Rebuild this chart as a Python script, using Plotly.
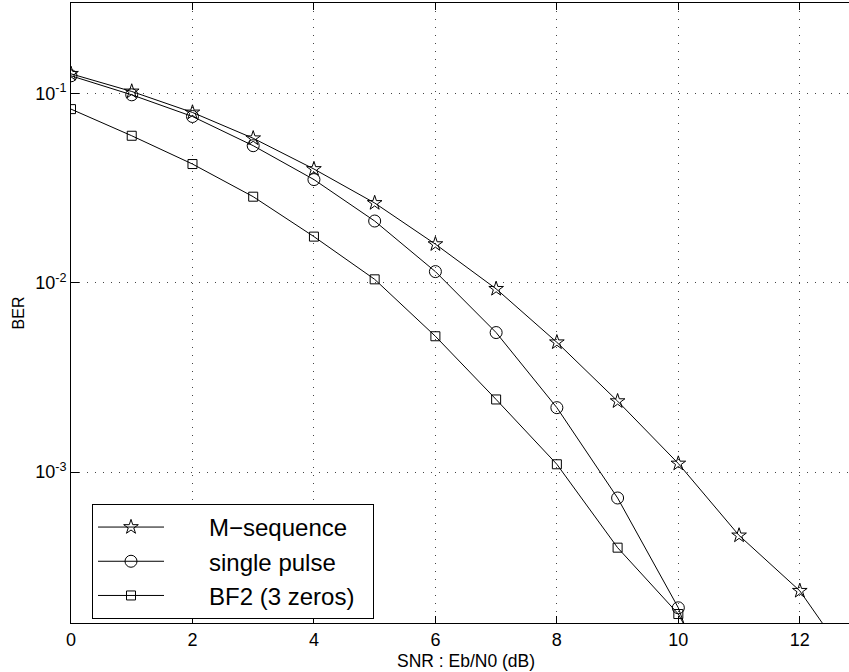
import plotly.graph_objects as go

# Eb/N0 values in dB
snr_db = [0, 1, 2, 3, 4, 5, 6, 7, 8, 9, 10, 11, 12, 13]

# Bit error rate for each signalling scheme
ber_mseq = [0.127, 0.1025, 0.0794, 0.058, 0.0399, 0.0264, 0.0160, 0.00929,
            0.00485, 0.00237, 0.00111, 4.63e-4, 2.36e-4, 8.2e-5]
ber_single = [0.124, 0.0984, 0.0756, 0.053, 0.0351, 0.0212, 0.01146, 0.00546,
              0.00219, 7.3e-4, 1.92e-4, 2.4e-5]
ber_bf2 = [0.0827, 0.0598, 0.0424, 0.0285, 0.01754, 0.01043, 0.00522, 0.00242,
           0.0011, 3.99e-4, 1.78e-4, 4.5e-5]

series_names = ["M\u2212sequence", "single pulse", "BF2 (3 zeros)"]
x_ticks = [0, 2, 4, 6, 8, 10, 12]
y_ticks = [1e-3, 1e-2, 1e-1]
y_tick_text = ["10<sup>-3</sup>", "10<sup>-2</sup>", "10<sup>-1</sup>"]

FONT = "Liberation Sans, Arial, Helvetica, sans-serif"
NBSP = "\u00a0"

fig = go.Figure()
for ys, name, sym, size in [
    (ber_mseq, series_names[0], "star-open", 11),
    (ber_single, series_names[1], "circle-open", 12),
    (ber_bf2, series_names[2], "square-open", 9),
]:
    fig.add_trace(go.Scatter(
        x=snr_db[:len(ys)], y=ys, name=NBSP * 6 + name + NBSP * 2,
        mode="lines+markers",
        line=dict(color="black", width=1),
        marker=dict(symbol=sym, size=size, color="black",
                    line=dict(color="black", width=1)),
    ))

grid = dict(showgrid=True, gridcolor="#444", gridwidth=1, griddash="1px,7px")

fig.update_layout(
    width=849, height=672,
    margin=dict(l=71, r=0, t=3, b=49),
    paper_bgcolor="white", plot_bgcolor="white",
    font=dict(family=FONT, size=18, color="black"),
    showlegend=True,
    legend=dict(
        x=0.027, y=0.192, xanchor="left", yanchor="top",
        bgcolor="white", bordercolor="black", borderwidth=1,
        font=dict(family=FONT, size=24, color="black"),
        itemwidth=66, tracegroupgap=0,
    ),
    xaxis=dict(
        range=[0, 12.81], tickvals=x_ticks, ticks="inside", ticklen=7,
        tickcolor="black", linecolor="black", linewidth=1, showline=True,
        mirror="ticks", zeroline=False, tickfont=dict(size=18), **grid,
    ),
    yaxis=dict(
        type="log", range=[-3.797, -0.522], tickvals=y_ticks,
        ticktext=y_tick_text, ticks="inside", ticklen=8, tickcolor="black",
        linecolor="black", linewidth=1, showline=True, mirror=False,
        zeroline=False, tickfont=dict(size=18),
        title=dict(text="BER", font=dict(size=16), standoff=6), **grid,
    ),
    annotations=[dict(
        x=6.5, xref="x", y=-0.061, yref="paper", yanchor="middle",
        text="SNR : Eb/N0 (dB)", showarrow=False,
        font=dict(family=FONT, size=17.5, color="black"),
    )],
)

fig.write_html("out.html")
